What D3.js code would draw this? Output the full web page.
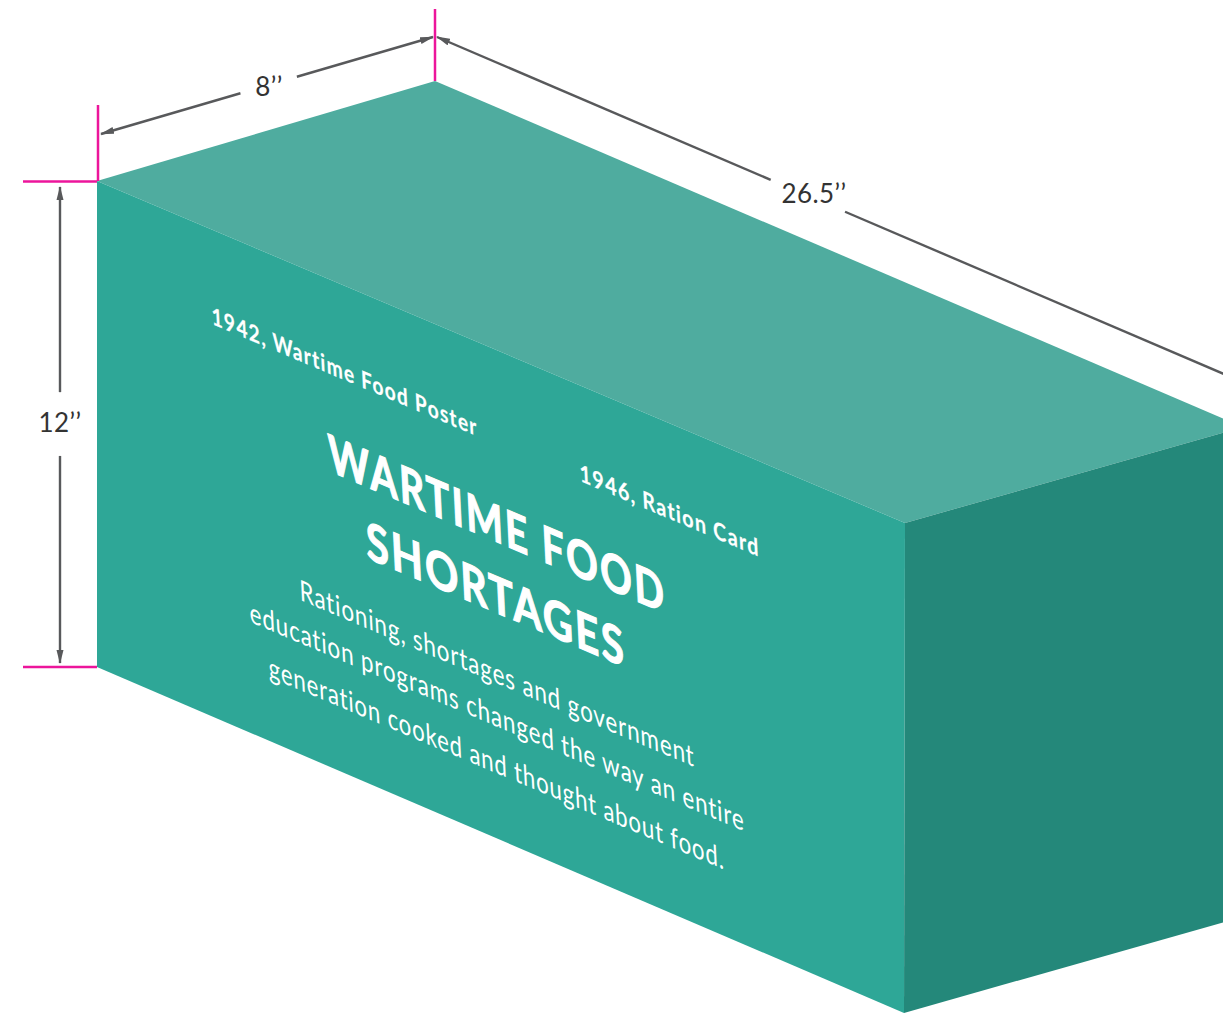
<!DOCTYPE html>
<html>
<head>
<meta charset="utf-8">
<script src="https://cdn.jsdelivr.net/npm/d3@7"></script>
<style>
  html, body { margin: 0; padding: 0; background: #fff; overflow: hidden; }
  svg { display: block; }
  text { font-family: Lato, "Open Sans", sans-serif; }
</style>
</head>
<body>
<div id="root"></div>
<script>
// box size in inches
const boxLength = 26.5;
const boxDepth = 8;
const boxHeight = 12;

const dimensionLabels = ["8’’", "26.5’’", "12’’"];
const captionLines = ["1942, Wartime Food Poster", "1946, Ration Card"];
const titleLines = ["WARTIME FOOD", "SHORTAGES"];
const bodyLines = [
    "Rationing, shortages and government",
    "education programs changed the way an entire",
    "generation cooked and thought about food."
];

const width = 1223, height = 1013;

const svg = d3.select('#root').append('svg')
    .attr('width', width)
    .attr('height', height)
    .attr('viewBox', [0, 0, width, height]);

// oblique projection of the box, far edges converge a little
const xLength = d3.scaleLinear().domain([0, boxLength]).range([97, 905]);
const yLength = d3.scaleLinear().domain([0, boxLength]).range([181, 523]);
const xDepth = d3.scaleLinear().domain([0, boxDepth]).range([0, 338]);
const yDepth = d3.scaleLinear().domain([0, boxDepth]).range([0, -100]);
const yHeight = d3.scaleLinear().domain([0, boxHeight]).range([486, 0]);
const depthTaper = d3.scaleLinear().domain([0, boxLength]).range([1, 0.96]);
const heightTaper = d3.scaleLinear().domain([0, boxLength]).range([1, 490 / 486]);
const xLean = d3.scaleLinear().domain([0, boxHeight]).range([-1, 0]);

function project(l, d, h) {
    return [
        xLength(l) + xDepth(d) + xLean(h) * (l / boxLength),
        yLength(l) + yDepth(d) * depthTaper(l) + yHeight(h) * heightTaper(l)
    ];
}

const line = d3.line().curve(d3.curveLinearClosed);

const faces = [
    { fill: '#4fac9f', corners: [[0, 0, boxHeight], [0, boxDepth, boxHeight], [boxLength, boxDepth, boxHeight], [boxLength, 0, boxHeight]] },
    { fill: '#2ea797', corners: [[0, 0, boxHeight], [boxLength, 0, boxHeight], [boxLength, 0, 0], [0, 0, 0]] },
    { fill: '#24887a', corners: [[boxLength, 0, boxHeight], [boxLength, boxDepth, boxHeight], [boxLength, boxDepth, 0], [boxLength, 0, 0]] }
];

svg.selectAll('.face')
    .data(faces)
    .enter()
    .append('path')
    .attr('class', 'face')
    .attr('fill', d => d.fill)
    .attr('d', d => line(d.corners.map(c => project(...c))));

// pink extension lines
const A = project(0, 0, boxHeight);
const B = project(0, boxDepth, boxHeight);
const D = project(boxLength, boxDepth, boxHeight);
const E = project(0, 0, 0);

const pink = [
    [[23, A[1] + 0.5], [A[0], A[1] + 0.5]],
    [[23, E[1]], [E[0], E[1]]],
    [[A[0] + 1, A[1]], [A[0] + 1, 105]],
    [[B[0], B[1]], [B[0], 9]]
];
svg.selectAll('.ext')
    .data(pink)
    .enter()
    .append('path')
    .attr('class', 'ext')
    .attr('d', d3.line())
    .attr('stroke', '#ec159b')
    .attr('stroke-width', 2.5)
    .attr('fill', 'none');

svg.append('defs').append('marker')
    .attr('id', 'head')
    .attr('viewBox', '0 0 14 8')
    .attr('refX', 13)
    .attr('refY', 4)
    .attr('markerUnits', 'userSpaceOnUse')
    .attr('markerWidth', 14)
    .attr('markerHeight', 8)
    .attr('orient', 'auto-start-reverse')
    .append('path')
    .attr('d', 'M14,4L0,0.5L0,7.5Z')
    .attr('fill', '#58595b');

// dimension lines, each one broken where its label sits
const dims = [
    { from: [A[0] + 4, A[1] - 47], to: [B[0] - 2, B[1] - 44], gap: [0.42, 0.59], at: [269, 96], label: dimensionLabels[0] },
    { from: [B[0] + 2, B[1] - 44], to: [D[0] + 2, D[1] - 44], gap: [0.413, 0.505], at: [814, 203], label: dimensionLabels[1] },
    { from: [60, A[1] + 6], to: [60, E[1] - 4], gap: [0.431, 0.565], at: [60, 432], label: dimensionLabels[2] }
];

const dimG = svg.selectAll('.dim').data(dims).enter().append('g').attr('class', 'dim');

dimG.each(function (d) {
    const g = d3.select(this);
    // d3.interpolate reuses its output array, so take a copy of each point
    const along = t => d3.interpolate(d.from, d.to)(t).slice();
    [[0, d.gap[0]], [d.gap[1], 1]].forEach((seg, i) => {
        g.append('path')
            .attr('d', d3.line()([along(seg[0]), along(seg[1])]))
            .attr('stroke', '#58595b')
            .attr('stroke-width', 2.4)
            .attr('fill', 'none')
            .attr(i == 0 ? 'marker-start' : 'marker-end', 'url(#head)');
    });
    g.append('text')
        .attr('x', d.at[0])
        .attr('y', d.at[1])
        .attr('text-anchor', 'middle')
        .attr('font-size', 26)
        .attr('letter-spacing', 0.4)
        .attr('fill', '#333')
        .text(d.label);
});

// text printed on the front face: x stays screen x, baseline follows the slope
const slope = (yLength.range()[1] - yLength.range()[0]) / (xLength.range()[1] - xLength.range()[0]);

function faceText(str, x0, x1, baseline, size, weight, bold, spacing) {
    svg.append('text')
        .attr('transform', `matrix(1,${slope},0.05,1,${x0},${baseline})`)
        .attr('textLength', x1 - x0)
        .attr('lengthAdjust', 'spacingAndGlyphs')
        .attr('letter-spacing', spacing)
        .attr('font-size', size)
        .attr('font-weight', weight)
        .attr('fill', '#fff')
        .attr('stroke', '#fff')
        .attr('stroke-width', bold)
        .text(str);
}

faceText(captionLines[0], 212, 478, 324, 24, 700, 0.2, 1.5);
faceText(captionLines[1], 580, 760, 481, 24, 700, 0.2, 1.5);
faceText(titleLines[0], 329, 667, 471, 52, 700, 1.2, 3);
faceText(titleLines[1], 367, 627, 558, 52, 700, 1.2, 3);
faceText(bodyLines[0], 300, 695, 600, 29, 400, 0, 1);
faceText(bodyLines[1], 250, 745, 622, 29, 400, 0, 1);
faceText(bodyLines[2], 269, 725, 677, 29, 400, 0, 1);
</script>
</body>
</html>
